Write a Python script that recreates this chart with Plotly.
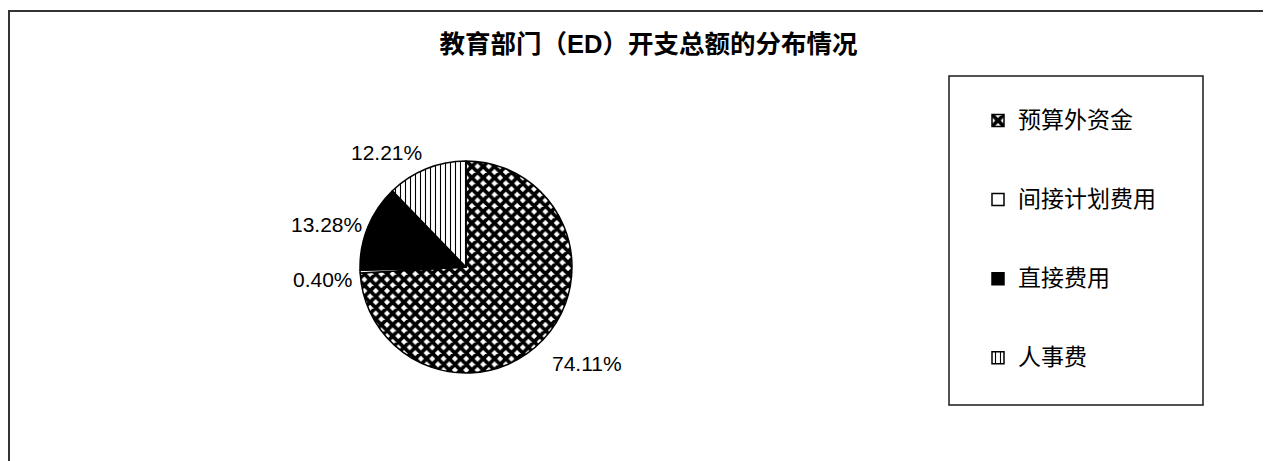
import plotly.graph_objects as go

# ---- data ----
categories = ["预算外资金", "间接计划费用", "直接费用", "人事费"]
values = [74.11, 0.40, 13.28, 12.21]
title_text = "教育部门（ED）开支总额的分布情况"

# ---- layout helpers (page body has an 8px margin) ----
OFF = 8
W, H = 1271 - OFF, 461 - OFF


def px(x):
    return (x - OFF) / W


def py(y):
    return 1 - (y - OFF) / H


# ---- styles ----
slice_colors = ["white", "white", "black", "white"]
pattern_shapes = ["x", "", "", "|"]

legend_font_calc = 19.5
legend_font_show = 23
legend_labels = [
    "\u00a0<br><span style='font-size:%dpx'>%s</span><br>\u00a0" % (legend_font_show, c)
    for c in categories
]

# percent-label centres (page pixels), one per category
label_pos = [(586.7, 363.3), (323.0, 279.0), (326.0, 224.0), (386.7, 152.5)]

total = sum(values)
percent_labels = ["%.2f%%" % (100 * v / total) for v in values]

fig = go.Figure()
fig.add_trace(go.Pie(
    labels=legend_labels,
    values=values,
    sort=False,
    direction="clockwise",
    rotation=0,
    textinfo="none",
    marker=dict(
        colors=slice_colors,
        line=dict(color="black", width=1.5),
        pattern=dict(shape=pattern_shapes, fgcolor="black", bgcolor=slice_colors,
                     size=[8, 8, 8, 5], solidity=[0.72, 0.3, 0.3, 0.22]),
    ),
    domain=dict(x=[px(360), px(572)], y=[py(373), py(161)]),
    hoverinfo="label+percent",
))

annotations = [
    dict(text=t, x=px(p[0]), y=py(p[1]), xref="paper", yref="paper",
         xanchor="center", yanchor="middle", showarrow=False,
         font=dict(family="Liberation Sans, Arial", size=21, color="black"))
    for t, p in zip(percent_labels, label_pos)
]

fig.update_layout(
    width=W, height=H,
    margin=dict(l=0, r=0, t=0, b=0),
    paper_bgcolor="white",
    plot_bgcolor="white",
    title=dict(
        text="<b>%s</b>" % title_text,
        x=px(648.5), xref="container", xanchor="center",
        y=py(44), yref="container", yanchor="middle",
        font=dict(family="Liberation Sans, Noto Sans CJK SC", size=25.5, color="black"),
    ),
    showlegend=True,
    legend=dict(
        x=px(978), y=py(76), xanchor="left", yanchor="top",
        xref="paper", yref="paper",
        font=dict(family="Noto Sans CJK SC", size=legend_font_calc, color="black"),
        bgcolor="rgba(0,0,0,0)", borderwidth=0,
        valign="middle",
    ),
    annotations=annotations,
    shapes=[
        dict(type="rect", xref="paper", yref="paper",
             x0=px(9), x1=1.02, y0=-0.03, y1=py(11),
             line=dict(color="#333333", width=2), fillcolor="rgba(0,0,0,0)", layer="below"),
        dict(type="rect", xref="paper", yref="paper",
             x0=px(949), x1=px(1203), y0=py(405), y1=py(76),
             line=dict(color="#1a1a1a", width=1.5), fillcolor="rgba(0,0,0,0)", layer="below"),
    ],
)

fig.write_html("out.html")
